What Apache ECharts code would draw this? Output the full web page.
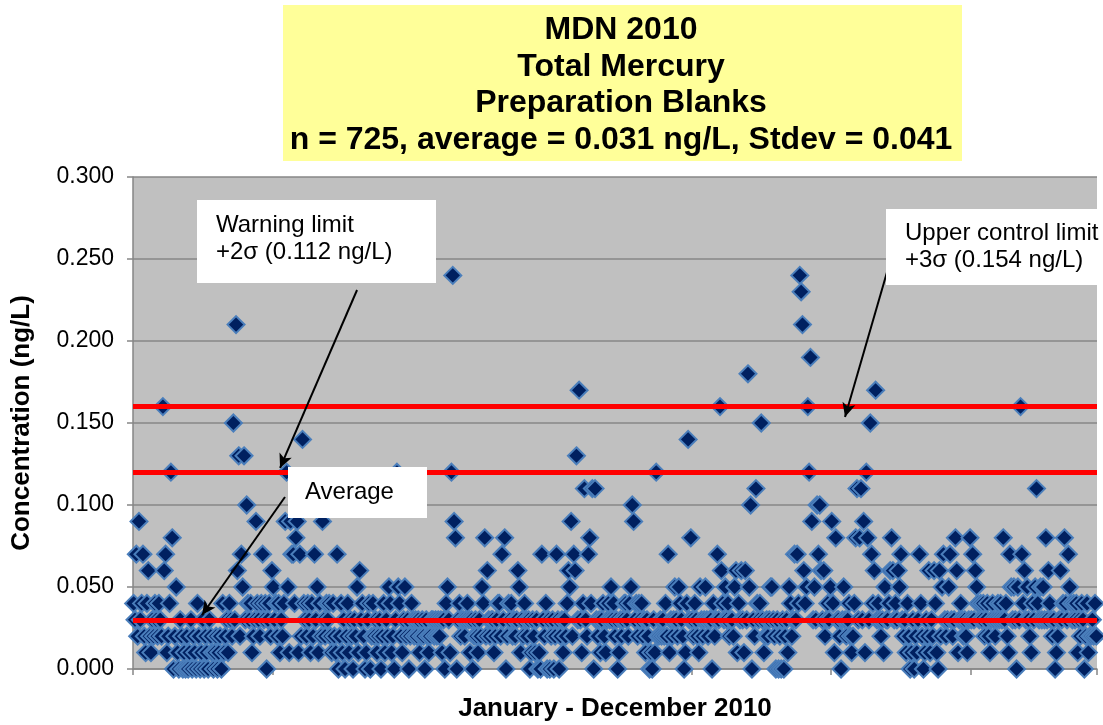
<!DOCTYPE html>
<html><head><meta charset="utf-8">
<script src="https://cdn.jsdelivr.net/npm/echarts@6/dist/echarts.min.js"></script>
<style>html,body{margin:0;padding:0;background:#fff}#c{width:1103px;height:725px}</style>
</head><body><div id="c"></div>
<script>
const titleLines = ['MDN 2010', 'Total Mercury', 'Preparation Blanks', 'n = 725, average = 0.031 ng/L, Stdev = 0.041'];
const xAxisTitle = 'January - December 2010';
const yAxisTitle = 'Concentration (ng/L)';
const warningText = ['Warning limit', '+2\u03c3 (0.112 ng/L)'];
const averageText = ['Average'];
const upperText = ['Upper control limit', '+3\u03c3 (0.154 ng/L)'];
// drawn positions of the red lines (average, +2 sigma, +3 sigma)
const limitValues = [0.0315, 0.117, 0.1575];
const yTicks = [0, 0.3, 0.05];
const xTicks = [0, 725, 105];
// Concentration (ng/L) of each of the 725 blanks, in sample order
const concentration = [
0.04,0.03,0.07,0.02,0.09,0.03,0.04,0.07,0.02,0.01,0.04,0.06,0.02,0.01,0.03,0.02,0.04,0.03,0.02,0.04,0.03,0.02,0.16,0.06,0.07,0.01,0.02,0.04,0.12,0.08,
0.00,0.02,0.05,0.01,0.00,0.03,0.02,0.00,0.01,0.00,0.02,0.00,0.01,0.03,0.00,0.02,0.01,0.00,0.04,0.02,0.00,0.01,0.03,0.00,0.02,0.01,0.00,0.03,0.02,0.01,
0.00,0.01,0.02,0.00,0.01,0.02,0.00,0.04,0.01,0.02,0.03,0.01,0.04,0.03,0.02,0.15,0.03,0.21,0.06,0.13,0.02,0.07,0.05,0.13,0.03,0.10,0.04,0.03,0.04,0.01,
0.02,0.03,0.09,0.04,0.03,0.02,0.04,0.07,0.03,0.04,0.00,0.03,0.04,0.02,0.06,0.05,0.03,0.04,0.02,0.04,0.01,0.03,0.02,0.04,0.09,0.12,0.05,0.01,0.09,0.07,
0.07,0.04,0.08,0.09,0.01,0.07,0.02,0.14,0.04,0.03,0.02,0.04,0.03,0.01,0.04,0.02,0.07,0.03,0.05,0.01,0.04,0.02,0.09,0.03,0.02,0.04,0.03,0.04,0.02,0.01,
0.04,0.02,0.01,0.07,0.00,0.02,0.04,0.01,0.03,0.00,0.02,0.04,0.01,0.03,0.02,0.00,0.03,0.02,0.05,0.01,0.06,0.03,0.04,0.02,0.00,0.01,0.03,0.04,0.00,0.02,
0.04,0.02,0.03,0.01,0.02,0.03,0.00,0.02,0.04,0.01,0.03,0.02,0.05,0.04,0.01,0.02,0.00,0.03,0.12,0.05,0.04,0.02,0.01,0.03,0.05,0.02,0.03,0.00,0.02,0.04,
0.03,0.02,0.03,0.02,0.03,0.01,0.02,0.03,0.02,0.00,0.03,0.02,0.01,0.02,0.03,0.03,0.02,0.03,0.02,0.03,0.02,0.03,0.01,0.03,0.00,0.04,0.05,0.03,0.01,0.12,
0.24,0.09,0.08,0.00,0.03,0.04,0.02,0.03,0.03,0.02,0.03,0.04,0.03,0.01,0.03,0.00,0.02,0.03,0.02,0.01,0.03,0.02,0.05,0.04,0.08,0.02,0.06,0.03,0.02,0.03,
0.03,0.01,0.02,0.03,0.04,0.04,0.02,0.07,0.03,0.08,0.00,0.02,0.04,0.03,0.04,0.02,0.03,0.02,0.03,0.06,0.05,0.01,0.03,0.02,0.04,0.03,0.02,0.03,0.00,0.01,
0.03,0.02,0.01,0.03,0.00,0.01,0.00,0.07,0.03,0.02,0.04,0.00,0.03,0.00,0.02,0.03,0.00,0.02,0.07,0.03,0.00,0.02,0.03,0.01,0.03,0.02,0.04,0.06,0.05,0.09,
0.02,0.07,0.06,0.13,0.03,0.17,0.03,0.01,0.04,0.11,0.03,0.02,0.07,0.08,0.04,0.11,0.00,0.11,0.03,0.02,0.03,0.01,0.03,0.04,0.02,0.01,0.03,0.04,0.03,0.05,
0.03,0.04,0.02,0.03,0.00,0.01,0.03,0.02,0.03,0.04,0.04,0.03,0.02,0.04,0.05,0.10,0.09,0.03,0.04,0.02,0.04,0.03,0.04,0.02,0.03,0.01,0.03,0.02,0.00,0.01,
0.00,0.03,0.01,0.12,0.02,0.02,0.03,0.02,0.03,0.02,0.04,0.02,0.07,0.01,0.03,0.02,0.03,0.05,0.03,0.02,0.05,0.04,0.03,0.02,0.00,0.01,0.04,0.14,0.03,0.08,
0.03,0.02,0.04,0.03,0.02,0.01,0.05,0.03,0.02,0.03,0.05,0.03,0.02,0.03,0.03,0.00,0.04,0.02,0.03,0.07,0.03,0.16,0.06,0.04,0.03,0.05,0.03,0.04,0.02,0.03,
0.03,0.02,0.05,0.06,0.01,0.04,0.03,0.06,0.03,0.01,0.06,0.03,0.18,0.05,0.10,0.00,0.03,0.02,0.11,0.04,0.03,0.04,0.15,0.03,0.01,0.02,0.03,0.02,0.03,0.05,
0.05,0.03,0.02,0.00,0.03,0.00,0.02,0.00,0.03,0.00,0.02,0.03,0.01,0.05,0.04,0.02,0.03,0.07,0.03,0.07,0.04,0.24,0.23,0.21,0.06,0.04,0.05,0.16,0.12,0.19,
0.09,0.03,0.05,0.03,0.10,0.07,0.10,0.06,0.03,0.06,0.02,0.03,0.04,0.03,0.05,0.09,0.04,0.01,0.08,0.03,0.03,0.02,0.00,0.03,0.05,0.03,0.02,0.03,0.04,0.02,
0.01,0.02,0.04,0.08,0.11,0.03,0.08,0.11,0.03,0.09,0.01,0.12,0.08,0.03,0.15,0.07,0.04,0.06,0.17,0.03,0.04,0.03,0.02,0.03,0.01,0.05,0.03,0.03,0.04,0.06,
0.08,0.06,0.03,0.04,0.03,0.06,0.05,0.07,0.03,0.02,0.03,0.01,0.04,0.02,0.00,0.01,0.03,0.00,0.02,0.01,0.03,0.07,0.04,0.02,0.00,0.01,0.03,0.02,0.06,0.01,
0.03,0.02,0.06,0.04,0.01,0.00,0.06,0.02,0.05,0.07,0.03,0.02,0.03,0.05,0.07,0.03,0.02,0.03,0.08,0.06,0.01,0.03,0.04,0.03,0.02,0.03,0.02,0.01,0.03,0.08,
0.03,0.07,0.03,0.06,0.05,0.04,0.03,0.04,0.03,0.04,0.02,0.03,0.04,0.02,0.01,0.03,0.04,0.03,0.02,0.03,0.04,0.03,0.04,0.03,0.08,0.03,0.04,0.02,0.01,0.07,
0.05,0.03,0.05,0.03,0.00,0.05,0.03,0.16,0.07,0.04,0.06,0.03,0.05,0.03,0.02,0.01,0.04,0.03,0.05,0.11,0.04,0.03,0.05,0.03,0.05,0.03,0.08,0.03,0.06,0.04,
0.03,0.02,0.03,0.00,0.01,0.02,0.03,0.06,0.03,0.04,0.08,0.04,0.03,0.07,0.05,0.04,0.03,0.04,0.03,0.04,0.01,0.03,0.02,0.04,0.03,0.00,0.02,0.04,0.01,0.02,
0.02,0.03,0.02,0.04,0.02
];

const FONT = "'Liberation Sans', Arial, sans-serif";
const points = concentration.map((v, i) => [i + 0.5, v]);

function textLines(lines, x, y0, lh, font, align) {
  return lines.map((t, i) => ({
    type: 'text', z: 11,
    style: { text: t, x: x, y: y0 + i * lh, font: font, fill: '#000', align: align || 'left', verticalAlign: 'middle' }
  }));
}

const chart = echarts.init(document.getElementById('c'), null, { renderer: 'canvas' });
chart.setOption({
  animation: false,
  grid: { left: 133, right: 6, top: 177, bottom: 56, show: true, backgroundColor: '#C0C0C0', borderWidth: 0, containLabel: false, outerBoundsMode: 'none' },
  xAxis: {
    type: 'value', min: xTicks[0], max: xTicks[1], interval: xTicks[2],
    axisLine: { show: true, onZero: false, lineStyle: { color: '#868686', width: 1.5 } },
    axisTick: { show: true, length: 6, lineStyle: { color: '#868686', width: 1.5 } },
    axisLabel: { show: false },
    splitLine: { show: false },
    name: xAxisTitle, nameLocation: 'middle', nameGap: 27,
    nameTextStyle: { fontFamily: FONT, fontSize: 26, fontWeight: 'bold', color: '#000' }
  },
  yAxis: {
    type: 'value', min: yTicks[0], max: yTicks[1], interval: yTicks[2],
    axisLine: { show: true, lineStyle: { color: '#868686', width: 1.5 } },
    axisTick: { show: true, length: 6, lineStyle: { color: '#868686', width: 1.5 } },
    axisLabel: { formatter: v => v.toFixed(3), fontFamily: FONT, fontSize: 23, color: '#000', margin: 19 },
    splitLine: { show: true, lineStyle: { color: '#878787', width: 1.5 } },
    name: yAxisTitle, nameLocation: 'middle', nameGap: 98, nameRotate: 90,
    nameTextStyle: { fontFamily: FONT, fontSize: 26, fontWeight: 'bold', color: '#000' }
  },
  series: [
    {
      type: 'scatter', data: points, symbol: 'diamond', symbolSize: 17, clip: false, z: 2,
      itemStyle: { color: '#002060', borderColor: '#4A7EBB', borderWidth: 2, opacity: 1 },
      emphasis: { disabled: true }
    },
    {
      type: 'scatter', data: [], z: 4,
      markLine: {
        silent: true, symbol: 'none', animation: false, label: { show: false },
        lineStyle: { color: '#FF0000', width: 5, type: 'solid' },
        data: limitValues.map(v => ({ yAxis: v }))
      }
    },
    {
      type: 'scatter', data: [], z: 20,
      markLine: {
        silent: true, symbol: ['none', 'arrow'], symbolSize: [10, 14], animation: false, label: { show: false },
        lineStyle: { color: '#000', width: 2, type: 'solid' },
        data: [
          [{ coord: [168.5, 0.2311] }, { coord: [110.6, 0.1226] }],
          [{ coord: [114.3, 0.1049] }, { coord: [51.9, 0.0329] }],
          [{ coord: [567.1, 0.2421] }, { coord: [535.5, 0.1537] }]
        ]
      }
    }
  ],
  graphic: [
    { type: 'rect', z: 10, shape: { x: 283, y: 5, width: 679, height: 156 }, style: { fill: '#FFFF99' } },
    ...textLines(titleLines, 621, 30, 36.7, "bold 32px 'Liberation Sans', Arial, sans-serif", 'center'),
    { type: 'rect', z: 10, shape: { x: 197, y: 200, width: 239, height: 83 }, style: { fill: '#FFFFFF' } },
    ...textLines(warningText, 216, 225, 27, "24px 'Liberation Sans', Arial, sans-serif"),
    { type: 'rect', z: 10, shape: { x: 288, y: 467, width: 139, height: 51 }, style: { fill: '#FFFFFF' } },
    ...textLines(averageText, 305, 492, 27, "24px 'Liberation Sans', Arial, sans-serif"),
    { type: 'rect', z: 10, shape: { x: 886, y: 209, width: 217, height: 76 }, style: { fill: '#FFFFFF' } },
    ...textLines(upperText, 905, 233, 27, "24px 'Liberation Sans', Arial, sans-serif")
  ]
});
</script>
</body></html>
